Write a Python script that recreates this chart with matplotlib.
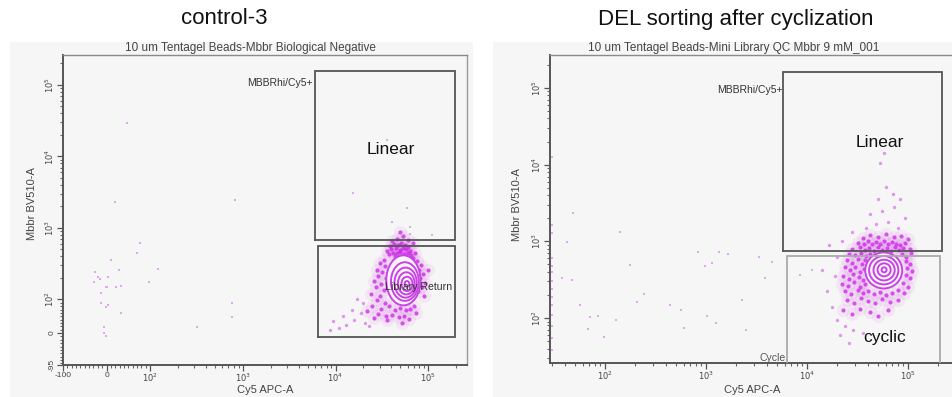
import numpy as np
import matplotlib
matplotlib.use('Agg')
import matplotlib.pyplot as plt
from matplotlib.patches import Rectangle, Ellipse
from matplotlib.ticker import FixedLocator, FixedFormatter, NullFormatter

plt.rcParams['font.family'] = ['Liberation Sans', 'DejaVu Sans']

# ---------------- text ----------------
ctrl_title = 'control-3'
cyc_title = 'DEL sorting after cyclization'
ctrl_subtitle = '10 um Tentagel Beads-Mbbr Biological Negative'
cyc_subtitle = '10 um Tentagel Beads-Mini Library QC Mbbr 9 mM_001'
x_label = 'Cy5 APC-A'
y_label = 'Mbbr BV510-A'

# ---------------- axes ----------------
ctrl_xlim = [-100, 2.62e5]
ctrl_ylim = [-95, 2.62e5]
ctrl_xticks = [-100, 0, 100, 1e3, 1e4, 1e5]
ctrl_xticklabels = ['-100', '0', '$10^2$', '$10^3$', '$10^4$', '$10^5$']
ctrl_yticks = [-95, 0, 100, 1e3, 1e4, 1e5]
ctrl_yticklabels = ['-95', '0', '$10^2$', '$10^3$', '$10^4$', '$10^5$']

cyc_xlim = [28.5, 2.79e5]
cyc_ylim = [25.9, 2.69e5]
cyc_xticks = [1e2, 1e3, 1e4, 1e5]
cyc_xticklabels = ['$10^2$', '$10^3$', '$10^4$', '$10^5$']
cyc_yticks = [1e2, 1e3, 1e4, 1e5]
cyc_yticklabels = ['$10^2$', '$10^3$', '$10^4$', '$10^5$']

# ---------------- control-3 events (data units) ----------------
ctrl_sparse_x = [47, 19, 77, 70, 10, 28, 122, 97, -27, -20, -15, 3, -2, 0, 22, 34,
                 -28, -12, -12, -1, 4, 34, -5, -7, -2, 320, 764, 764, 823,
                 1.54e4, 3.6e4, 4.1e4, 5.9e4, 6.3e4, 1.1e5, 6.4e4]
ctrl_sparse_y = [2.97e4, 2300, 620, 450, 360, 260, 270, 176, 245, 207, 193, 207, 150, 150, 147, 153,
                 176, 123, 90, 78, 84, 60, 18, 1, -9, 18, 90, 48, 2480,
                 3100, 1.7e4, 1220, 1920, 1040, 800, 820]

ctrl_dense_x = [3.9e4, 4.3e4, 4.7e4, 5.1e4, 5.6e4, 6.1e4,
                4.0e4, 4.5e4, 4.9e4, 5.3e4, 5.8e4, 6.4e4,
                4.2e4, 4.6e4, 5.0e4, 5.5e4, 6.0e4, 6.6e4,
                3.8e4, 4.4e4, 5.2e4, 5.9e4, 6.9e4, 3.6e4, 7.2e4,
                4.6e4, 5.3e4, 6.0e4, 4.1e4, 6.8e4, 5.0e4,
                3.3e4, 3.0e4, 3.4e4, 2.8e4, 3.2e4, 2.9e4, 3.5e4, 2.6e4, 3.1e4, 2.7e4, 3.3e4,
                2.4e4, 3.0e4, 2.8e4, 3.4e4, 2.5e4, 3.1e4, 2.2e4, 2.9e4, 3.5e4, 2.6e4,
                7.6e4, 8.3e4, 7.9e4, 8.8e4, 8.1e4, 9.3e4, 8.5e4, 7.8e4, 9.0e4, 1.0e5,
                3.8e4, 4.4e4, 5.0e4, 5.7e4, 6.4e4, 7.1e4, 4.1e4, 4.8e4, 5.5e4, 6.2e4, 7.4e4, 3.6e4, 5.2e4]
ctrl_dense_y = [560, 600, 580, 610, 570, 540,
                500, 520, 490, 530, 500, 480,
                450, 440, 460, 430, 450, 420,
                430, 400, 410, 390, 380, 470, 440,
                700, 760, 680, 650, 620, 880,
                360, 320, 290, 260, 240, 210, 200, 180, 165, 150, 135,
                120, 110, 98, 90, 80, 72, 65, 58, 50, 45,
                350, 300, 260, 230, 200, 170, 150, 130, 110, 260,
                80, 70, 75, 68, 72, 80, 55, 48, 52, 42, 60, 38, 30]
# lighter outliers trailing towards lower Cy5
ctrl_tail_x = [1.9e4, 1.6e4, 2.1e4, 1.3e4, 1.1e4, 8.7e3, 1.5e4, 2.0e4, 1.2e4, 1.7e4, 2.3e4, 9.5e3]
ctrl_tail_y = [60, 40, 30, 25, 15, 8, 70, 90, 50, 100, 20, 35]

# contour levels (centre in data units, full width/height in decades)
ctrl_contour_x = [5.4e4, 5.6e4, 5.7e4, 5.8e4, 5.9e4, 5.9e4]
ctrl_contour_y = [185, 178, 172, 168, 165, 165]
ctrl_contour_w = [0.37, 0.30, 0.24, 0.18, 0.12, 0.05]
ctrl_contour_h = [0.70, 0.54, 0.42, 0.31, 0.20, 0.08]

# gates
ctrl_gate_x0 = [6.0e3, 6.5e3]
ctrl_gate_x1 = [1.95e5, 1.95e5]
ctrl_gate_y0 = [683, -11.6]
ctrl_gate_y1 = [1.59e5, 563]

# ---------------- cyclization events (log10 of intensity) ----------------
cyc_sparse_lx = [1.68, 1.62, 1.57, 1.67, 1.75, 1.85, 1.93, 1.83, 1.99, 2.11, 2.25, 2.15, 2.32,
                 2.39, 2.64, 2.75, 2.78, 2.92, 2.99, 3.06, 3.13, 3.01, 3.10, 3.22, 3.52, 3.65,
                 3.58, 3.36, 3.40, 3.93, 4.05,
                 1.47, 1.47, 1.47, 1.47, 1.47, 1.47, 1.47, 1.47, 1.47, 1.47, 1.47, 1.47, 1.47, 1.47]
cyc_sparse_ly = [3.37, 2.99, 2.52, 2.50, 2.17, 2.01, 2.03, 1.86, 1.75, 1.97, 2.69, 3.12, 2.21,
                 2.31, 2.17, 2.10, 1.87, 2.86, 2.68, 2.72, 2.86, 2.03, 1.94, 2.83, 2.80, 2.73,
                 2.52, 2.24, 1.84, 2.56, 2.63,
                 4.10, 3.21, 3.11, 2.78, 2.68, 2.60, 2.48, 2.38, 2.27, 2.17, 2.04, 1.90, 1.74, 1.58]

cyc_dense_lx = [4.62, 4.70, 4.78, 4.86, 4.93, 4.55, 5.00,
                4.50, 4.56, 4.60, 4.64, 4.68, 4.72, 4.76, 4.80, 4.84, 4.88, 4.92, 4.97,
                4.45, 4.52, 4.57, 4.61, 4.66, 4.70, 4.74, 4.79, 4.83, 4.87, 4.91, 4.95, 5.02,
                4.42, 4.48, 4.53, 4.58, 4.62, 4.94, 4.98, 5.03,
                4.40, 4.45, 4.50, 4.54, 4.57, 4.98, 5.02,
                4.38, 4.43, 4.48, 4.52, 4.56, 4.99, 5.04,
                4.36, 4.42, 4.46, 4.51, 4.55, 4.98, 5.02,
                4.35, 4.41, 4.47, 4.52, 4.57, 4.95, 5.00,
                4.38, 4.44, 4.50, 4.55, 4.60, 4.66, 4.72, 4.78, 4.84, 4.90, 4.96,
                4.40, 4.47, 4.53, 4.60, 4.67, 4.74, 4.82, 4.90,
                4.36, 4.45, 4.52, 4.62, 4.70, 4.80]
cyc_dense_ly = [3.08, 3.06, 3.09, 3.05, 3.07, 3.04, 3.03,
                2.98, 2.97, 3.00, 2.96, 2.99, 2.97, 3.00, 2.96, 2.99, 2.97, 2.95, 2.98,
                2.90, 2.92, 2.89, 2.91, 2.88, 2.92, 2.89, 2.91, 2.88, 2.92, 2.89, 2.91, 2.90,
                2.84, 2.82, 2.85, 2.81, 2.84, 2.83, 2.80, 2.85,
                2.76, 2.72, 2.77, 2.70, 2.75, 2.74, 2.71,
                2.66, 2.62, 2.67, 2.60, 2.64, 2.65, 2.61,
                2.55, 2.51, 2.57, 2.53, 2.50, 2.56, 2.52,
                2.45, 2.42, 2.47, 2.40, 2.44, 2.46, 2.41,
                2.35, 2.31, 2.36, 2.32, 2.35, 2.31, 2.34, 2.30, 2.33, 2.36, 2.32,
                2.24, 2.20, 2.26, 2.22, 2.19, 2.25, 2.21, 2.24,
                2.10, 2.05, 2.12, 2.08, 2.02, 2.10]
# lighter outliers: lower-left tail and events reaching into the Linear gate
cyc_tail_lx = [4.30, 4.38, 4.46, 4.33, 4.55, 4.42, 4.25, 4.20, 4.28, 4.15, 4.30, 4.22, 4.35,
               4.45, 4.58, 4.68, 4.80, 4.90, 4.97, 4.74, 4.86, 4.62, 4.78, 4.72, 4.76, 4.85, 4.92, 4.70]
cyc_tail_ly = [1.98, 1.90, 1.85, 1.78, 1.80, 1.68, 2.15, 2.35, 2.55, 2.62, 2.80, 2.95, 3.00,
               3.12, 3.18, 3.22, 3.25, 3.18, 3.30, 3.40, 3.45, 3.35, 3.71, 4.02, 4.15, 3.62, 3.55, 3.55]

cyc_contour_x = [5.75e4, 5.75e4, 5.8e4, 5.8e4, 5.8e4]
cyc_contour_y = [417, 420, 422, 425, 425]
cyc_contour_w = [0.366, 0.29, 0.21, 0.13, 0.05]
cyc_contour_h = [0.47, 0.37, 0.27, 0.17, 0.065]

cyc_gate_x0 = [5.78e3, 6.34e3]
cyc_gate_x1 = [2.17e5, 2.07e5]
cyc_gate_y0 = [748, 25]
cyc_gate_y1 = [1.61e5, 643]
cyc_gate_colors = ['#555555', '#aaaaaa']

# ---------------- figure ----------------
W, H = 953, 397
fig = plt.figure(figsize=(W / 100, H / 100), dpi=100)
fig.patch.set_facecolor('white')
BG = '#f6f6f6'
fig.add_artist(Rectangle((10 / W, 0), 463 / W, 1 - 42 / H, transform=fig.transFigure,
                         facecolor=BG, edgecolor='none', zorder=0))
fig.add_artist(Rectangle((493 / W, 0), 1 - 493 / W, 1 - 42 / H, transform=fig.transFigure,
                         facecolor=BG, edgecolor='none', zorder=0))

ax1 = fig.add_axes([63 / W, 1 - 365 / H, 404 / W, 310 / H])
ax2 = fig.add_axes([550 / W, 1 - 363 / H, 403 / W, 308 / H])

DOT = '#cc22e6'
MID = '#d66ee8'
PALE = '#e2a6ee'
TXT = '#333333'


def log_minors(decades, top):
    out = [k * 10.0 ** d for d in decades for k in range(2, 10)]
    return [v for v in out if v < top] + [v * 10 for v in [2e4] if v < top]


def style_axis(ax, xticks, xlabels, yticks, ylabels, xminor, yminor, right_spine):
    ax.set_facecolor(BG)
    ax.xaxis.set_major_locator(FixedLocator(xticks))
    ax.xaxis.set_major_formatter(FixedFormatter(xlabels))
    ax.yaxis.set_major_locator(FixedLocator(yticks))
    ax.yaxis.set_major_formatter(FixedFormatter(ylabels))
    ax.xaxis.set_minor_locator(FixedLocator(xminor))
    ax.yaxis.set_minor_locator(FixedLocator(yminor))
    ax.xaxis.set_minor_formatter(NullFormatter())
    ax.yaxis.set_minor_formatter(NullFormatter())
    ax.tick_params(which='major', direction='out', length=4, width=0.9, color='#555555',
                   labelsize=6, labelcolor='#444444', pad=1)
    ax.tick_params(which='minor', direction='out', length=2.5, width=0.8, color='#666666')
    for lab in ax.get_yticklabels():
        lab.set_rotation(90)
        lab.set_va('center')
    for s in ['left', 'bottom']:
        ax.spines[s].set_color('#555555')
        ax.spines[s].set_linewidth(1.4)
    ax.spines['top'].set_color('#8a8a8a')
    ax.spines['top'].set_linewidth(1.0)
    if right_spine:
        ax.spines['right'].set_color('#9a9a9a')
        ax.spines['right'].set_linewidth(1.0)
    else:
        ax.spines['right'].set_visible(False)


def draw_events(ax, x, y):
    # soft halo + crisp dots from the same events
    ax.scatter(x, y, s=90, marker='o', c=DOT, alpha=0.07, linewidths=0, zorder=2.5)
    ax.scatter(x, y, s=9, marker='o', c=DOT, alpha=0.75, linewidths=0, zorder=3)


def draw_outliers(ax, x, y):
    ax.scatter(x, y, s=6, marker='o', c=MID, alpha=0.7, linewidths=0, zorder=2.6)


def draw_contours(ax, cxs, cys, ws, hs):
    tx = ax.xaxis.get_transform()
    ty = ax.yaxis.get_transform()
    trans = ax.transLimits + ax.transAxes
    for i, (cx, cy, w, h) in enumerate(zip(cxs, cys, ws, hs)):
        sx = tx.transform([cx])[0]
        ux = tx.transform([cx * 10])[0] - sx
        sy = ty.transform([cy])[0]
        uy = ty.transform([cy * 10])[0] - sy
        e = Ellipse((sx, sy), w * ux, h * uy, transform=trans,
                    facecolor='#fcf5fd' if i == 0 else 'none',
                    edgecolor='#c843e4', lw=1.4, zorder=4)
        ax.add_patch(e)


def draw_gates(ax, x0s, x1s, y0s, y1s, colors):
    for x0, x1, y0, y1, c in zip(x0s, x1s, y0s, y1s, colors):
        ax.plot([x0, x1, x1, x0, x0], [y0, y0, y1, y1, y0], color=c, lw=1.3, zorder=5,
                solid_joinstyle='miter', clip_on=True)


# ---- control-3 panel ----
ax1.set_xscale('symlog', linthresh=100, linscale=0.423)
ax1.set_yscale('symlog', linthresh=100, linscale=0.423)
ax1.set_xlim(ctrl_xlim)
ax1.set_ylim(ctrl_ylim)
ctrl_xminor = [v for v in range(-90, 100, 10) if v != 0] + log_minors([2, 3, 4], ctrl_xlim[1])
ctrl_yminor = [v for v in range(-90, 100, 10) if v != 0] + log_minors([2, 3, 4], ctrl_ylim[1])
style_axis(ax1, ctrl_xticks, ctrl_xticklabels, ctrl_yticks, ctrl_yticklabels,
           ctrl_xminor, ctrl_yminor, True)
ax1.scatter(ctrl_sparse_x, ctrl_sparse_y, s=4, marker='s', c=PALE, linewidths=0, zorder=2)
draw_outliers(ax1, ctrl_tail_x, ctrl_tail_y)
draw_events(ax1, ctrl_dense_x, ctrl_dense_y)
draw_contours(ax1, ctrl_contour_x, ctrl_contour_y, ctrl_contour_w, ctrl_contour_h)
draw_gates(ax1, ctrl_gate_x0, ctrl_gate_x1, ctrl_gate_y0, ctrl_gate_y1, ['#555555', '#555555'])
ax1.text(5.6e3, 1.05e5, 'MBBRhi/Cy5+', fontsize=7.5, color=TXT, ha='right', va='center', zorder=6)
ax1.text(3.9e4, 1.24e4, 'Linear', fontsize=12.5, color='#111111', ha='center', va='center', zorder=6)
ax1.text(3.4e4, 150, 'Library Return', fontsize=7.6, color=TXT, ha='left', va='center', zorder=6)

# ---- cyclization panel ----
ax2.set_xscale('log')
ax2.set_yscale('log')
ax2.set_xlim(cyc_xlim)
ax2.set_ylim(cyc_ylim)
cyc_xminor = [v for v in log_minors([1, 2, 3, 4], cyc_xlim[1]) if v > cyc_xlim[0]]
cyc_yminor = [v for v in log_minors([1, 2, 3, 4], cyc_ylim[1]) if v > cyc_ylim[0]]
style_axis(ax2, cyc_xticks, cyc_xticklabels, cyc_yticks, cyc_yticklabels,
           cyc_xminor, cyc_yminor, False)
ax2.scatter(10 ** np.array(cyc_sparse_lx), 10 ** np.array(cyc_sparse_ly), s=4, marker='s',
            c=PALE, linewidths=0, zorder=2, clip_on=False)
draw_outliers(ax2, 10 ** np.array(cyc_tail_lx), 10 ** np.array(cyc_tail_ly))
draw_events(ax2, 10 ** np.array(cyc_dense_lx), 10 ** np.array(cyc_dense_ly))
draw_contours(ax2, cyc_contour_x, cyc_contour_y, cyc_contour_w, cyc_contour_h)
draw_gates(ax2, cyc_gate_x0, cyc_gate_x1, cyc_gate_y0, cyc_gate_y1, cyc_gate_colors)
ax2.text(5.78e3, 10 ** 4.97, 'MBBRhi/Cy5+', fontsize=7.5, color=TXT, ha='right', va='center', zorder=6)
ax2.text(5.3e4, 1.97e4, 'Linear', fontsize=12.5, color='#111111', ha='center', va='center', zorder=6)
ax2.text(5.9e4, 55, 'cyclic', fontsize=12.5, color='#111111', ha='center', va='center', zorder=6)
ax2.text(6.1e3, 30, 'Cycle', fontsize=7.5, color='#555555', ha='right', va='center', zorder=6)

# ---- labels ----
for ax, lx, ly, xx, xy in [(ax1, -0.064, 0.52, 0.50, -0.066), (ax2, -0.069, 0.516, 0.501, -0.073)]:
    ax.set_ylabel(y_label, fontsize=8, color='#444444')
    ax.yaxis.set_label_coords(lx, ly)
    ax.set_xlabel(x_label, fontsize=8, color='#444444')
    ax.xaxis.set_label_coords(xx, xy)

fig.text(224 / W, 1 - 19 / H, ctrl_title, fontsize=16, ha='center', va='center', color='#111111')
fig.text(736 / W, 1 - 20 / H, cyc_title, fontsize=16, ha='center', va='center', color='#111111')
fig.text(250 / W, 1 - 53.5 / H, ctrl_subtitle, fontsize=8.5, ha='center', va='bottom', color='#444444')
fig.text(734 / W, 1 - 53.5 / H, cyc_subtitle, fontsize=8.5, ha='center', va='bottom', color='#444444')

fig.savefig('out.png', dpi=100, facecolor='white')
